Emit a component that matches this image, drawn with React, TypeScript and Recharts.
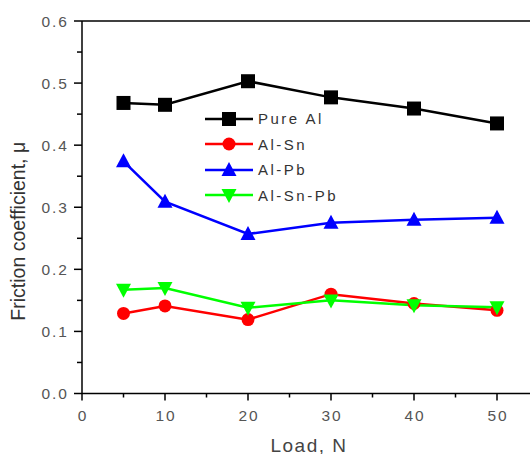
import {
  LineChart,
  Line,
  XAxis,
  YAxis,
  ReferenceLine,
  Legend,
} from "recharts";

// loads (N)
const loads = [5, 10, 20, 30, 40, 50];

// friction coefficient per alloy
const pureAl = [0.468, 0.465, 0.503, 0.477, 0.459, 0.435];
const alSn = [0.129, 0.141, 0.119, 0.16, 0.145, 0.134];
const alPb = [0.374, 0.309, 0.257, 0.275, 0.28, 0.283];
const alSnPb = [0.167, 0.17, 0.138, 0.15, 0.142, 0.139];

const xTicks = [0, 5, 10, 15, 20, 25, 30, 35, 40, 45, 50];
const yTicks = [0, 0.05, 0.1, 0.15, 0.2, 0.25, 0.3, 0.35, 0.4, 0.45, 0.5, 0.55, 0.6];

const data = loads.map((load, i) => ({
  load,
  pureAl: pureAl[i],
  alSn: alSn[i],
  alPb: alPb[i],
  alSnPb: alSnPb[i],
}));

const series = [
  { key: "pureAl", name: "Pure Al", color: "#000000", shape: "square" },
  { key: "alSn", name: "Al-Sn", color: "#ff0000", shape: "circle" },
  { key: "alPb", name: "Al-Pb", color: "#0000ff", shape: "up" },
  { key: "alSnPb", name: "Al-Sn-Pb", color: "#00ff00", shape: "down" },
];

const FONT = "'Liberation Sans', Arial, sans-serif";

function Marker({ cx, cy, shape, color }: any) {
  if (cx == null || cy == null) return null;
  if (shape === "square")
    return <rect x={cx - 7} y={cy - 7} width={14} height={14} fill={color} />;
  if (shape === "circle") return <circle cx={cx} cy={cy} r={6.5} fill={color} />;
  if (shape === "up")
    return (
      <polygon
        points={`${cx},${cy - 8} ${cx - 7.5},${cy + 6} ${cx + 7.5},${cy + 6}`}
        fill={color}
      />
    );
  return (
    <polygon
      points={`${cx},${cy + 8} ${cx - 7.5},${cy - 6} ${cx + 7.5},${cy - 6}`}
      fill={color}
    />
  );
}

function XTick({ x, y, payload }: any) {
  const v = payload.value;
  const major = v % 10 === 0;
  return (
    <g>
      <line x1={x} y1={y} x2={x} y2={y + (major ? 7 : 4)} stroke="#000" strokeWidth={1.5} />
      {major && (
        <text
          x={x + 1}
          y={y + 22}
          textAnchor="middle"
          dominantBaseline="central"
          fontSize={15.5}
          letterSpacing={2}
          fill="#555"
          fontFamily={FONT}
        >
          {v}
        </text>
      )}
    </g>
  );
}

function YTick({ x, y, payload }: any) {
  const v = payload.value;
  const major = Math.round(v * 100) % 10 === 0;
  return (
    <g>
      <line x1={x} y1={y} x2={x - (major ? 8 : 5)} y2={y} stroke="#000" strokeWidth={1.5} />
      {major && (
        <text
          x={x - 13}
          y={y}
          textAnchor="end"
          dominantBaseline="central"
          fontSize={15.5}
          letterSpacing={2}
          fill="#555"
          fontFamily={FONT}
        >
          {v.toFixed(1)}
        </text>
      )}
    </g>
  );
}

function YLabel({ viewBox }: any) {
  const cx = viewBox.x - 4;
  const cy = viewBox.y + viewBox.height / 2 + 24;
  return (
    <text
      x={cx}
      y={cy}
      transform={`rotate(-90 ${cx} ${cy})`}
      textAnchor="middle"
      dominantBaseline="central"
      fontSize={19.5}
      fill="#333"
      fontFamily={FONT}
    >
      Friction coefficient, μ
    </text>
  );
}

function XLabel({ viewBox }: any) {
  return (
    <text
      x={viewBox.x + 227}
      y={viewBox.y + 58}
      textAnchor="middle"
      fontSize={19}
      letterSpacing={1.5}
      fill="#444"
      fontFamily={FONT}
    >
      Load, N
    </text>
  );
}

function LegendBox() {
  return (
    <div style={{ fontFamily: FONT, fontSize: 15, color: "#333", letterSpacing: 2.5 }}>
      {series.map((s) => (
        <div key={s.key} style={{ display: "flex", alignItems: "center", height: 25.5 }}>
          <svg width={48} height={20} style={{ marginRight: 5 }}>
            <line x1={0} y1={10} x2={48} y2={10} stroke={s.color} strokeWidth={2.5} />
            <Marker cx={24} cy={10} shape={s.shape} color={s.color} />
          </svg>
          <span>{s.name}</span>
        </div>
      ))}
    </div>
  );
}

export default function App() {
  return (
    <div
      style={{
        position: "fixed",
        left: 0,
        top: 0,
        width: 530,
        height: 454,
        overflow: "hidden",
        background: "#fff",
      }}
    >
      <LineChart
        width={560}
        height={454}
        data={data}
        margin={{ top: 21, right: 21.5, left: 22, bottom: 0.5 }}
      >
        <XAxis
          dataKey="load"
          type="number"
          domain={[0, 55]}
          ticks={xTicks}
          interval={0}
          tickLine={false}
          tickSize={0}
          tickMargin={0}
          tick={<XTick />}
          axisLine={{ stroke: "#000", strokeWidth: 1.5 }}
          height={60}
          label={<XLabel />}
        />
        <YAxis
          type="number"
          domain={[0, 0.6]}
          ticks={yTicks}
          interval={0}
          tickLine={false}
          tickSize={0}
          tickMargin={0}
          tick={<YTick />}
          axisLine={{ stroke: "#000", strokeWidth: 1.5 }}
          width={60}
          label={<YLabel />}
        />
        <ReferenceLine y={0.6} stroke="#000" strokeWidth={1.5} />
        <Legend
          layout="horizontal"
          verticalAlign="middle"
          align="center"
          content={<LegendBox />}
          wrapperStyle={{ position: "absolute", left: 205, top: 106, width: "auto" }}
        />
        {series.map((s) => (
          <Line
            key={s.key}
            dataKey={s.key}
            name={s.name}
            stroke={s.color}
            strokeWidth={2.5}
            isAnimationActive={false}
            dot={(p: any) => (
              <Marker key={`${s.key}-${p.index}`} cx={p.cx} cy={p.cy} shape={s.shape} color={s.color} />
            )}
            activeDot={false}
          />
        ))}
      </LineChart>
    </div>
  );
}
